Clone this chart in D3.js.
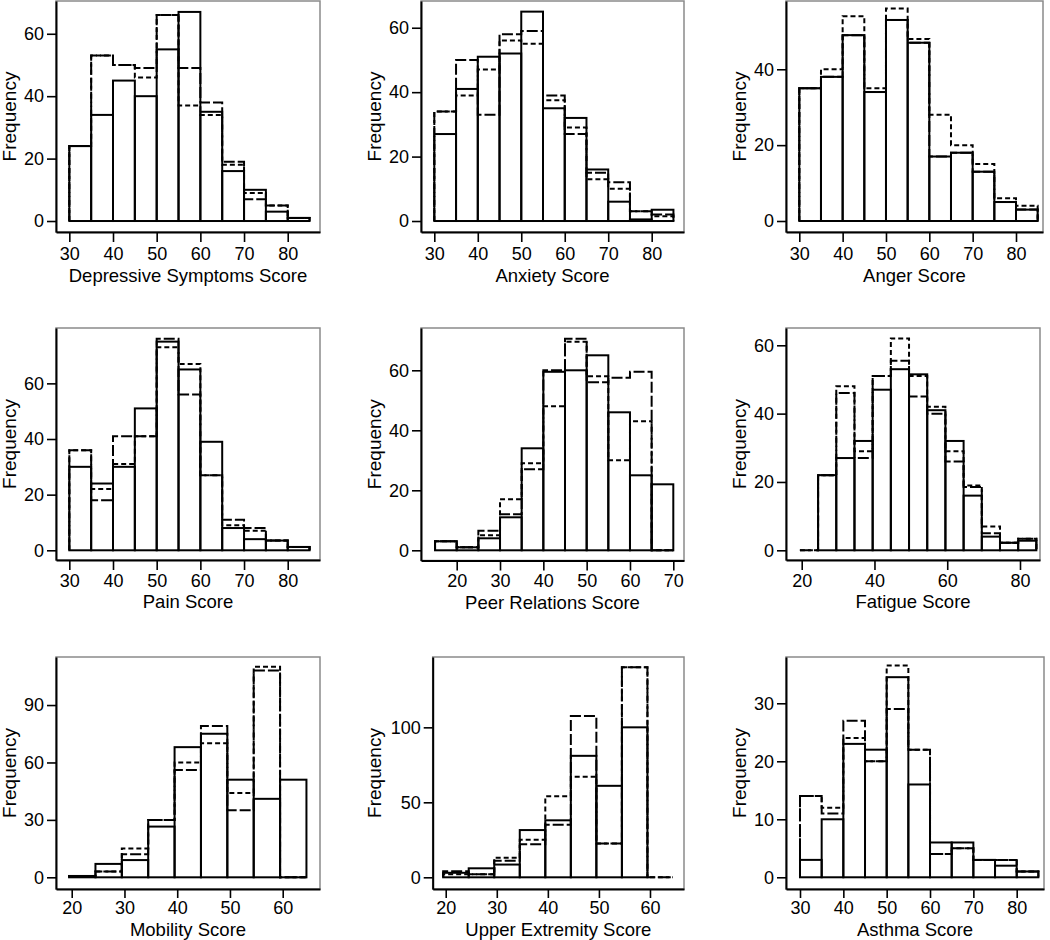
<!DOCTYPE html>
<head>
<meta charset="utf-8">
<script src="https://d3js.org/d3.v7.min.js"></script>
<title>Score Histograms</title>
<style>
  body { margin: 0; background: #ffffff; }
  svg text { font-family: "Liberation Sans", Arial, sans-serif; fill: #000; }
</style>
</head>
<body>
<svg id="chart" width="1050" height="940"></svg>
<script>
// panel titles (x axis)
var titles = ["Depressive Symptoms Score", "Anxiety Score", "Anger Score",
              "Pain Score", "Peer Relations Score", "Fatigue Score",
              "Mobility Score", "Upper Extremity Score", "Asthma Score"];

// histogram bins: first edge of each panel, all bins 5 wide
var binStart = [30, 30, 30, 30, 15, 19.5, 19.5, 19.5, 30];
var binWidth = 5;

// solid bars
var solidFreq = [
  [24, 34, 45, 40, 55, 67, 35, 16, 10, 3, 1],
  [27, 41, 51, 52, 65, 35, 32, 16, 6, 0.5, 3.5],
  [35, 38, 49, 34, 53, 47, 17, 18, 13, 5, 3],
  [30, 24, 30, 51, 75, 65, 39, 8, 4, 3.5, 1.2],
  [3, 1, 4, 11, 34, 59.5, 60, 65, 46, 25, 22],
  [0, 22, 27, 32, 47, 53, 51.5, 41, 32, 16, 4, 2.2, 2.8],
  [0.7, 7, 9, 26.5, 68, 75, 51, 41, 51],
  [3, 6, 8.5, 31.5, 38, 81, 61, 100, 0],
  [3, 10, 23, 22, 34.5, 16, 6, 6, 3, 2, 1]
];

// long dashed outline
var longFreq = [
  [24, 53, 50, 49, 66, 49, 38, 19, 7, 5, 1],
  [34, 50, 33, 58, 59, 39, 27, 15, 12, 3, 2],
  [35, 38, 49, 34, 53, 47, 17, 18, 13, 5, 3],
  [36, 18, 41, 41, 76, 56, 27, 11, 8, 3.5, 1.2],
  [3, 1, 6.5, 12, 27, 60, 70.5, 56, 57.5, 59.5, 0],
  [0, 22, 46, 27, 51, 55.5, 45, 40, 26, 18.5, 5, 2.2, 3.4],
  [0.7, 3, 12, 30, 56, 79, 35, 108, 0],
  [4, 2, 11, 22, 35, 107.5, 22.5, 140, 0],
  [14, 11, 27, 20, 29, 22, 4, 5, 3, 3, 1]
];

// short dashed outline
var shortFreq = [
  [24, 53, 50, 46, 66, 37, 34, 18, 9, 5, 1],
  [34, 39, 47, 56, 55, 37.5, 29, 13, 10, 3, 1.5],
  [35, 40, 54, 35, 56, 48, 28, 20, 15, 6, 4],
  [36, 22, 31, 41, 73, 67, 27, 9, 7, 3.5, 1.2],
  [3, 1, 5, 17, 29, 48, 69.5, 58, 30, 43, 0],
  [0, 22, 48, 29, 51, 62, 51, 42, 29, 19, 7, 2.2, 3.4],
  [0.7, 3, 15, 30, 60, 70, 44, 110, 0],
  [2, 2, 13, 25, 54, 67, 22.5, 140, 0],
  [14, 12, 24, 20, 36.5, 22, 4, 5, 3, 3, 1]
];

var xTicks = [
  [30, 40, 50, 60, 70, 80], [30, 40, 50, 60, 70, 80], [30, 40, 50, 60, 70, 80],
  [30, 40, 50, 60, 70, 80], [20, 30, 40, 50, 60, 70], [20, 40, 60, 80],
  [20, 30, 40, 50, 60], [20, 30, 40, 50, 60], [30, 40, 50, 60, 70, 80]
];
var yTicks = [
  [0, 20, 40, 60], [0, 20, 40, 60], [0, 20, 40],
  [0, 20, 40, 60], [0, 20, 40, 60], [0, 20, 40, 60],
  [0, 30, 60, 90], [0, 50, 100], [0, 10, 20, 30]
];

// frame boxes (px) and the value range each frame spans
var layout = [
  {x0: 56,    x1: 320,  y0: 1,   y1: 232,   xd: [26.95, 87.39], yd: [-3.52, 70.5],  tx: 16,  ty: 50, tk: 10, tp: 5},
  {x0: 421,   x1: 684,  y0: 1,   y1: 232,   xd: [26.94, 87.43], yd: [-3.41, 68.3],  tx: 381, ty: 50, tk: 10, tp: 5},
  {x0: 786,   x1: 1043, y0: 1,   y1: 232,   xd: [26.93, 86.23], yd: [-2.9, 58.0],   tx: 746, ty: 50, tk: 10, tp: 5},
  {x0: 56,    x1: 320,  y0: 328, y1: 560,   xd: [26.95, 87.39], yd: [-3.49, 79.9],  tx: 16,  ty: 48, tk: 10, tp: 4},
  {x0: 421,   x1: 684,  y0: 328, y1: 560.5, xd: [11.76, 72.47], yd: [-3.4, 74.1],   tx: 381, ty: 48, tk: 10, tp: 4},
  {x0: 786,   x1: 1040, y0: 328, y1: 560,   xd: [15.68, 85.5],  yd: [-2.84, 65.06], tx: 746, ty: 48, tk: 10, tp: 4},
  {x0: 56,    x1: 320,  y0: 657, y1: 889,   xd: [17.02, 67.07], yd: [-6.11, 115.1], tx: 16,  ty: 47, tk: 9,  tp: 3},
  {x0: 432.7, x1: 684,  y0: 657, y1: 889,   xd: [17.45, 66.66], yd: [-7.8, 146.9],  tx: 381, ty: 47, tk: 9,  tp: 3},
  {x0: 786,   x1: 1044, y0: 657, y1: 889,   xd: [26.77, 86.3],  yd: [-2.02, 37.98], tx: 746, ty: 47, tk: 9,  tp: 3}
];

var svg = d3.select("#chart");

layout.forEach(function(p, i) {
  var x = d3.scaleLinear().domain(p.xd).range([p.x0, p.x1]);
  var y = d3.scaleLinear().domain(p.yd).range([p.y1, p.y0]);
  var g = svg.append("g");

  // gray plot frame (top/right stay gray)
  g.append("rect")
    .attr("x", p.x0).attr("y", p.y0)
    .attr("width", p.x1 - p.x0).attr("height", p.y1 - p.y0)
    .attr("fill", "none").attr("stroke", "#8a8a8a").attr("stroke-width", 1.5);

  // dashed comparison histograms as step outlines
  var line = d3.line().x(function(d) { return x(d[0]); }).y(function(d) { return y(d[1]); });
  [[longFreq[i], "11,3"], [shortFreq[i], "5,3"]].forEach(function(s) {
    var vals = s[0];
    var pts = [[binStart[i], 0]];
    vals.forEach(function(v, k) {
      var a = binStart[i] + k * binWidth;
      pts.push([a, v], [a + binWidth, v]);
    });
    pts.push([binStart[i] + vals.length * binWidth, 0]);
    g.append("path")
      .attr("d", line(pts))
      .attr("fill", "none")
      .attr("stroke", "#000")
      .attr("stroke-width", 2)
      .attr("stroke-dasharray", s[1]);
  });

  // solid bars on top
  g.selectAll("rect.bar")
    .data(solidFreq[i])
    .enter().append("rect")
    .attr("class", "bar")
    .attr("x", function(d, k) { return x(binStart[i] + k * binWidth); })
    .attr("width", function(d, k) { return x(binStart[i] + (k + 1) * binWidth) - x(binStart[i] + k * binWidth); })
    .attr("y", function(d) { return y(d); })
    .attr("height", function(d) { return y(0) - y(d); })
    .attr("fill", "none")
    .attr("stroke", "#000")
    .attr("stroke-width", 2);

  // axes
  var xa = g.append("g")
    .attr("transform", "translate(0," + p.y1 + ")")
    .call(d3.axisBottom(x).tickValues(xTicks[i]).tickSize(p.tk).tickSizeOuter(0).tickPadding(p.tp));
  var ya = g.append("g")
    .attr("transform", "translate(" + p.x0 + ",0)")
    .call(d3.axisLeft(y).tickValues(yTicks[i]).tickSize(9).tickSizeOuter(0).tickPadding(3));
  [xa, ya].forEach(function(a) {
    a.attr("font-size", 18).attr("font-family", "'Liberation Sans', Arial, sans-serif");
    a.select(".domain").attr("stroke", "#000").attr("stroke-width", 2);
    a.selectAll(".tick line").attr("stroke", "#000").attr("stroke-width", 1.6);
  });

  // titles
  g.append("text")
    .attr("x", (p.x0 + p.x1) / 2)
    .attr("y", p.y1 + p.ty)
    .attr("text-anchor", "middle")
    .attr("font-size", 18.5)
    .text(titles[i]);
  g.append("text")
    .attr("transform", "translate(" + p.tx + "," + (p.y0 + p.y1) / 2 + ") rotate(-90)")
    .attr("text-anchor", "middle")
    .attr("font-size", 19)
    .text("Frequency");
});
</script>
</body>
</html>
